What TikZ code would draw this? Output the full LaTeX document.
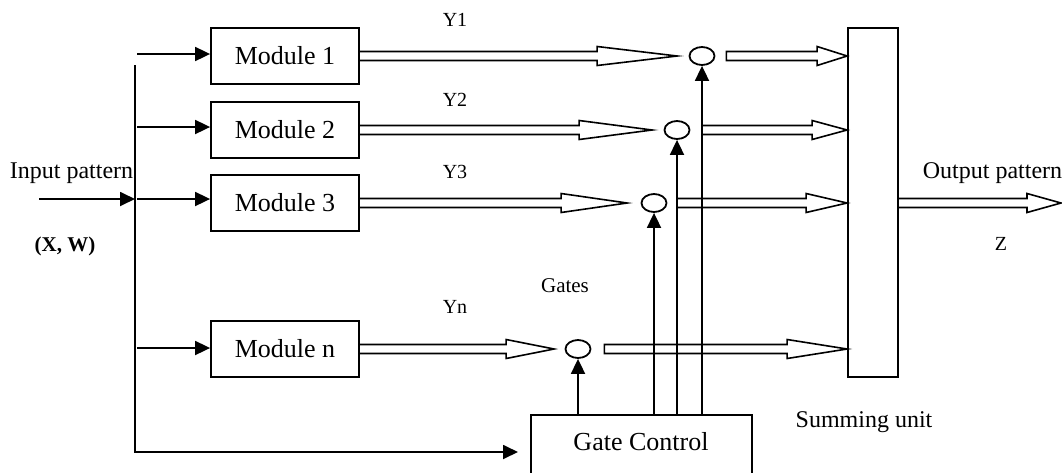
\documentclass[tikz,border=0pt]{standalone}
\usepackage{fontspec}
\setmainfont{Liberation Serif}
\usetikzlibrary{arrows.meta,shapes.geometric,calc}

\tikzset{
  wire/.style={line width=1.8pt},
  arr/.style={wire,-{Triangle[length=15pt,width=14pt]}},
  module/.style={draw,line width=1.8pt,minimum width=148pt,minimum height=56pt,
    inner sep=0pt,font=\fontsize{26}{30}\selectfont},
  gate/.style={draw,ellipse,line width=1.8pt,minimum width=25pt,minimum height=18pt,inner sep=0pt},
  hollow/.style={line width=1.6pt,line join=miter},
  lab/.style={anchor=base,inner sep=0pt,font=\fontsize{24}{28}\selectfont},
  small/.style={anchor=base,inner sep=0pt,font=\fontsize{20}{24}\selectfont},
}

% wide outlined arrow: start point, tip point, head length, tail closure
\newcommand\hollowarrow[4]{%
  \draw[hollow] let \p1=#1, \p2=#2 in
    (\x1,\y2+4.5pt) -- (\x2-#3,\y2+4.5pt) -- (\x2-#3,\y2+9.5pt) -- (\x2,\y2)
    -- (\x2-#3,\y2-9.5pt) -- (\x2-#3,\y2-4.5pt) -- (\x1,\y2-4.5pt) #4;}

\begin{document}
\begin{tikzpicture}[x=1pt,y=-1pt]
\useasboundingbox (0,0) rectangle (1062,472);

% modules
\node[module] (m1) at (285,56) {Module 1};
\node[module] (m2) at (285,130) {Module 2};
\node[module] (m3) at (285,203) {Module 3};
\node[module] (mn) at (285,349) {Module n};

% summing unit and gate control
\node[draw,line width=1.8pt,minimum width=50pt,minimum height=349pt,inner sep=0pt] (su) at (873,202.5) {};
\node[draw,line width=1.8pt,minimum width=221pt,minimum height=70pt,inner sep=0pt,anchor=north west] (gc) at (530,414) {};
\node[lab,font=\fontsize{26}{30}\selectfont] (gct) at (641,450) {Gate Control};

% gates
\node[gate] (g1) at (702,56) {};
\node[gate] (g2) at (677,130) {};
\node[gate] (g3) at (654,203) {};
\node[gate] (gn) at (578,349) {};

% input bus
\coordinate (bustop) at (135,65);
\coordinate (busbot) at (135,452);
\coordinate (in) at (39,199);
\draw[arr,shorten >=12pt] (bustop) -- (busbot) -- (busbot -| gc.west);
\draw[arr] (in) -- (in -| bustop);
\coordinate (b1) at (137,54);
\coordinate (b2) at (137,127);
\coordinate (b3) at (137,199);
\coordinate (bn) at (137,348);
\draw[arr] (b1) -- (b1 -| m1.west);
\draw[arr] (b2) -- (b2 -| m2.west);
\draw[arr] (b3) -- (b3 -| m3.west);
\draw[arr] (bn) -- (bn -| mn.west);

% module outputs to gates
\hollowarrow{(m1.east)}{($(g1.west)+(-11.5,0)$)}{80pt}{}
\hollowarrow{(m2.east)}{($(g2.west)+(-11.5,0)$)}{73pt}{}
\hollowarrow{(m3.east)}{($(g3.west)+(-13.5,0)$)}{66pt}{}
\hollowarrow{(mn.east)}{($(gn.west)+(-10.5,0)$)}{48pt}{}

% gate outputs to summing unit
\hollowarrow{($(g1.east)+(11,0)$)}{(su.west |- g1)}{30pt}{-- cycle}
\hollowarrow{(g1 |- g2)}{(su.west |- g2)}{35pt}{}
\hollowarrow{(g2 |- g3)}{(su.west |- g3)}{41pt}{}
\hollowarrow{($(gn.east)+(13,0)$)}{(su.west |- gn)}{60pt}{-- cycle}

% output
\coordinate (zend) at (1061,203);
\hollowarrow{(su.east |- zend)}{(zend)}{34pt}{}

% gate control lines
\draw[arr] (gc.north -| gn) -- (gn.south);
\draw[arr] (gc.north -| g3) -- (g3.south);
\draw[arr] (gc.north -| g2) -- (g2.south);
\draw[arr] (gc.north -| g1) -- (g1.south);

% labels
\node[lab] (lin) at (71.5,178) {Input pattern};
\node[anchor=base,inner sep=0pt,font=\fontsize{21}{24}\selectfont\bfseries] (lxw) at (65,251) {(X, W)};
\node[small] (ly1) at (455,26) {Y1};
\node[small] (ly2) at (455,106) {Y2};
\node[small] (ly3) at (455,178) {Y3};
\node[small] (lyn) at (455,313) {Yn};
\node[small,font=\fontsize{21}{24}\selectfont] (lg) at (565,292) {Gates};
\node[lab] (lout) at (992.5,178) {Output pattern};
\node[small] (lz) at (1001,250) {Z};
\node[lab] (lsum) at (864,427) {Summing unit};
\end{tikzpicture}
\end{document}
